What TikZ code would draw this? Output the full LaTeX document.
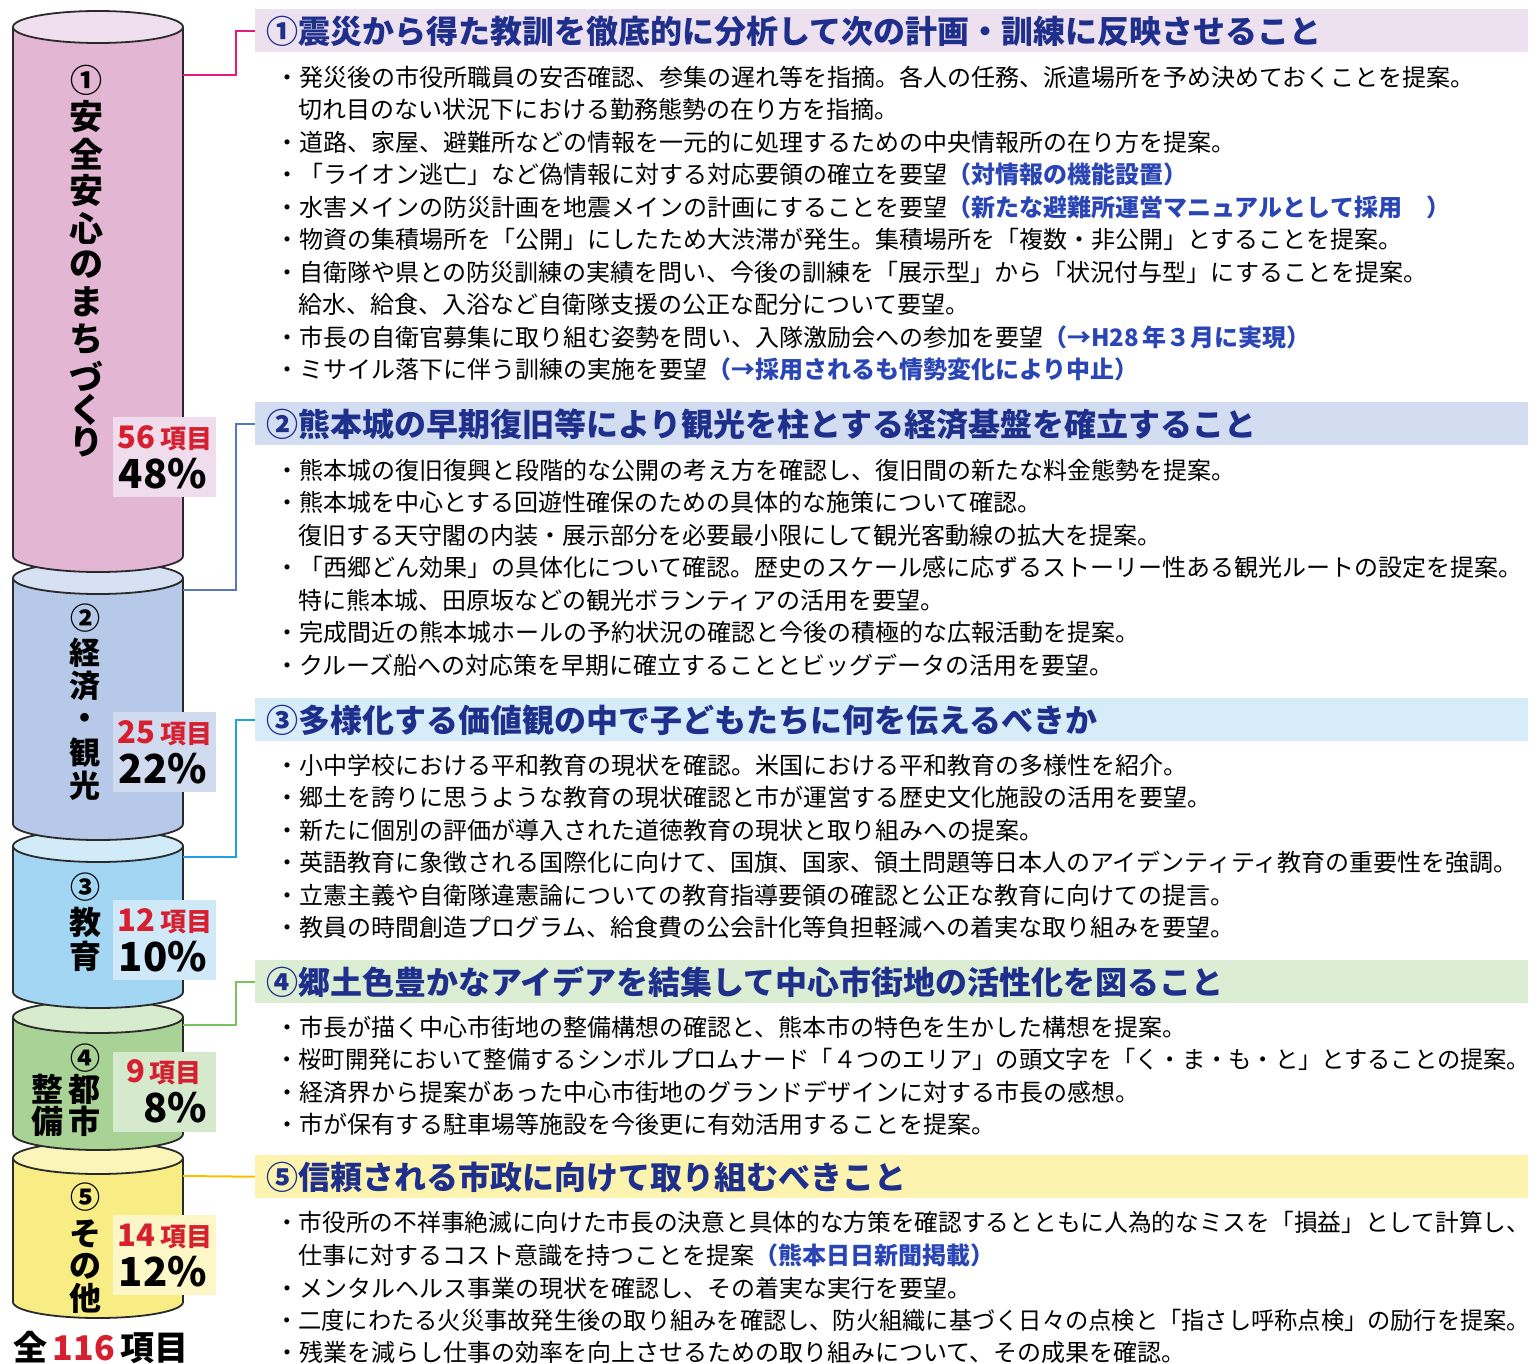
\documentclass[tikz,border=0pt]{standalone}
\usepackage{fontspec}
\setmainfont{Noto Sans CJK JP}
\newfontfamily\cjk{Noto Sans CJK JP}
\definecolor{cylgray}{HTML}{2A2A2A}
\definecolor{pinkbody}{HTML}{E3B6D4}\definecolor{pinktop}{HTML}{F0E0EF}\definecolor{pinkbox}{HTML}{EFDCEC}\definecolor{pinkline}{HTML}{E5197F}\definecolor{pinkhead}{HTML}{EEE1EF}
\definecolor{bluebody}{HTML}{B6C9E8}\definecolor{bluetop}{HTML}{D6E1F3}\definecolor{bluebox}{HTML}{D1DBF0}\definecolor{blueline}{HTML}{5577C4}\definecolor{bluehead}{HTML}{D3DDF1}
\definecolor{cyanbody}{HTML}{A3D6F3}\definecolor{cyantop}{HTML}{D2EBF9}\definecolor{cyanbox}{HTML}{CFE9F8}\definecolor{cyanline}{HTML}{1DA1E0}\definecolor{cyanhead}{HTML}{D6ECF8}
\definecolor{greenbody}{HTML}{A9D296}\definecolor{greentop}{HTML}{D7EBCD}\definecolor{greenbox}{HTML}{D5E9CD}\definecolor{greenline}{HTML}{7CC062}\definecolor{greenhead}{HTML}{DBEED3}
\definecolor{yellowbody}{HTML}{F8ED85}\definecolor{yellowtop}{HTML}{FBF5B9}\definecolor{yellowbox}{HTML}{FDF7C8}\definecolor{yellowline}{HTML}{F2C200}\definecolor{yellowhead}{HTML}{FCF4AE}
\definecolor{headtext}{HTML}{1F2F8C}
\definecolor{pblue}{HTML}{2A45B5}
\definecolor{numred}{HTML}{D7202F}
\newsavebox\fitbox
\newcommand\fitw[2]{\sbox\fitbox{#2}\ifdim\wd\fitbox>#1\relax\resizebox{#1}{\height}{\usebox\fitbox}\else\usebox\fitbox\fi}
\newcommand\bp[1]{{\bfseries\color{pblue}#1}}
\newcounter{ln}
\newcommand\bl[2]{\stepcounter{ln}\node[bodytxt] (L\arabic{ln}) at (275,#1) {\fitw{1255pt}{・#2}};}
\newcommand\cl[2]{\stepcounter{ln}\node[bodytxt] (L\arabic{ln}) at (298,#1) {\fitw{1232pt}{#2}};}
\newcommand\vc[5]{\node[vch,font=\cjk\bfseries\fontsize{#4}{#4}\selectfont] (#1) at (#2,#3) {#5};}
\newcommand\cyl[5]{%
  \fill[#4] (13,#2) -- (13,#3) arc[start angle=180,end angle=0,x radius=85,y radius=16] -- (183,#2) -- cycle;
  \draw[cylline] (13,#2) -- (13,#3) arc[start angle=180,end angle=0,x radius=85,y radius=16] -- (183,#2);
  \filldraw[cylline,fill=#5] (98,#2) ellipse [x radius=85,y radius=16];
  \coordinate (#1) at (183,#2);}
\tikzset{
  cylline/.style={draw=cylgray,line width=1.8pt},
  vch/.style={inner sep=0pt,text=black},
  lbox/.style={anchor=north west,inner sep=0pt,minimum width=103pt,minimum height=80pt},
  itm/.style={inner sep=0pt,text=numred,font=\cjk\bfseries\fontsize{26}{26}\selectfont},
  pct/.style={inner sep=0pt,anchor=east,font=\cjk\bfseries\fontsize{40}{40}\selectfont},
  hbar/.style={anchor=north west,inner sep=0pt,minimum width=1273pt,minimum height=43pt},
  htxt/.style={anchor=west,inner sep=0pt,text=headtext,font=\cjk\bfseries\fontsize{32}{32}\selectfont},
  bodytxt/.style={anchor=west,inner sep=0pt,font=\cjk\fontsize{24}{24}\selectfont},
  conn/.style={line width=2pt}
}
\begin{document}
\begin{tikzpicture}[x=1pt,y=-1pt]
\useasboundingbox (0,0) rectangle (1538,1363);
\fill[white] (0,0) rectangle (1538,1363);
% cylinders (bottom first)
\cyl{cy5}{1158}{1302}{yellowbody}{yellowtop}
\cyl{cy4}{1017}{1134}{greenbody}{greentop}
\cyl{cy3}{846}{992}{cyanbody}{cyantop}
\cyl{cy2}{578}{824}{bluebody}{bluetop}
\cyl{cy1}{27}{556}{pinkbody}{pinktop}
% connector start points on cylinder sides
\coordinate (s1) at (183,75);
\coordinate (s2) at (183,590);
\coordinate (s3) at (183,857);
\coordinate (s4) at (183,1025);
\coordinate (s5) at (183,1176);
% vertical labels
\vc{a0}{86}{80}{32}{①}
\vc{a1}{86}{117}{34}{安}
\vc{a2}{86}{154}{34}{全}
\vc{a3}{86}{191}{34}{安}
\vc{a4}{86}{228}{34}{心}
\vc{a5}{86}{265}{34}{の}
\vc{a6}{86}{302}{34}{ま}
\vc{a7}{86}{339}{34}{ち}
\vc{a8}{86}{376}{34}{づ}
\vc{a9}{86}{410}{34}{く}
\vc{a10}{86}{442}{34}{り}
\vc{b0}{85}{618}{30}{②}
\vc{b1}{85}{653}{31}{経}
\vc{b2}{85}{686}{31}{済}
\vc{b3}{85}{721}{31}{・}
\vc{b4}{85}{753}{31}{観}
\vc{b5}{85}{786}{31}{光}
\vc{c0}{85}{887}{30}{③}
\vc{c1}{85}{922}{32}{教}
\vc{c2}{85}{956}{32}{育}
\vc{d0}{85}{1058}{30}{④}
\vc{d1}{84}{1089}{32}{都}
\vc{d2}{84}{1121}{32}{市}
\vc{d3}{47}{1089}{32}{整}
\vc{d4}{47}{1121}{32}{備}
\vc{e0}{85}{1197}{30}{⑤}
\vc{e1}{85}{1234}{32}{そ}
\vc{e2}{85}{1266}{32}{の}
\vc{e3}{85}{1298}{32}{他}
% label boxes
\node[lbox,fill=pinkbox] (k1) at (113,417) {};
\node[itm] (k1a) at (165,438) {{\fontsize{31}{31}\selectfont 56}\,項目};
\node[pct] (k1b) at (207,474) {48\%};
\node[lbox,fill=bluebox] (k2) at (113,712) {};
\node[itm] (k2a) at (165,733) {{\fontsize{31}{31}\selectfont 25}\,項目};
\node[pct] (k2b) at (207,769) {22\%};
\node[lbox,fill=cyanbox] (k3) at (113,900) {};
\node[itm] (k3a) at (165,921) {{\fontsize{31}{31}\selectfont 12}\,項目};
\node[pct] (k3b) at (207,957) {10\%};
\node[lbox,fill=greenbox] (k4) at (113,1052) {};
\node[itm] (k4a) at (164,1072) {{\fontsize{31}{31}\selectfont 9}\,項目};
\node[pct] (k4b) at (207,1108) {8\%};
\node[lbox,fill=yellowbox] (k5) at (113,1215) {};
\node[itm] (k5a) at (165,1236) {{\fontsize{31}{31}\selectfont 14}\,項目};
\node[pct] (k5b) at (207,1272) {12\%};
\node[anchor=west,inner sep=0pt,font=\cjk\bfseries\fontsize{34}{34}\selectfont] (total) at (13,1347) {全\,{\color{numred}116}\,項目};
% heading bars
\node[hbar,fill=pinkhead] (h1) at (255,9) {};
\node[hbar,fill=bluehead] (h2) at (255,402) {};
\node[hbar,fill=cyanhead] (h3) at (255,698) {};
\node[hbar,fill=greenhead] (h4) at (255,960) {};
\node[hbar,fill=yellowhead] (h5) at (255,1155) {};
\node[htxt] (ht1) at (266,31) {①震災から得た教訓を徹底的に分析して次の計画・訓練に反映させること};
\node[htxt] (ht2) at (266,424) {②熊本城の早期復旧等により観光を柱とする経済基盤を確立すること};
\node[htxt] (ht3) at (266,720) {③多様化する価値観の中で子どもたちに何を伝えるべきか};
\node[htxt] (ht4) at (266,982) {④郷土色豊かなアイデアを結集して中心市街地の活性化を図ること};
\node[htxt] (ht5) at (266,1177) {⑤信頼される市政に向けて取り組むべきこと};
% connectors
\draw[conn,pinkline] (s1) -- (236,75) |- (h1.west);
\draw[conn,blueline] (s2) -- (236,590) |- (h2.west);
\draw[conn,cyanline] (s3) -- (236,857) |- (h3.west);
\draw[conn,greenline] (s4) -- (236,1025) |- (h4.west);
\draw[conn,yellowline] (s5) -- (h5.west);
% body text
\bl{77}{発災後の市役所職員の安否確認、参集の遅れ等を指摘。各人の任務、派遣場所を予め決めておくことを提案。}
\cl{109}{切れ目のない状況下における勤務態勢の在り方を指摘。}
\bl{142}{道路、家屋、避難所などの情報を一元的に処理するための中央情報所の在り方を提案。}
\bl{174}{「ライオン逃亡」など偽情報に対する対応要領の確立を要望\bp{（対情報の機能設置）}}
\bl{207}{水害メインの防災計画を地震メインの計画にすることを要望\bp{（新たな避難所運営マニュアルとして採用　）}}
\bl{239}{物資の集積場所を「公開」にしたため大渋滞が発生。集積場所を「複数・非公開」とすることを提案。}
\bl{272}{自衛隊や県との防災訓練の実績を問い、今後の訓練を「展示型」から「状況付与型」にすることを提案。}
\cl{304}{給水、給食、入浴など自衛隊支援の公正な配分について要望。}
\bl{337}{市長の自衛官募集に取り組む姿勢を問い、入隊激励会への参加を要望\bp{（→H28\,年３月に実現）}}
\bl{369}{ミサイル落下に伴う訓練の実施を要望\bp{（→採用されるも情勢変化により中止）}}
\bl{470}{熊本城の復旧復興と段階的な公開の考え方を確認し、復旧間の新たな料金態勢を提案。}
\bl{502}{熊本城を中心とする回遊性確保のための具体的な施策について確認。}
\cl{535}{復旧する天守閣の内装・展示部分を必要最小限にして観光客動線の拡大を提案。}
\bl{567}{「西郷どん効果」の具体化について確認。歴史のスケール感に応ずるストーリー性ある観光ルートの設定を提案。}
\cl{600}{特に熊本城、田原坂などの観光ボランティアの活用を要望。}
\bl{632}{完成間近の熊本城ホールの予約状況の確認と今後の積極的な広報活動を提案。}
\bl{665}{クルーズ船への対応策を早期に確立することとビッグデータの活用を要望。}
\bl{765}{小中学校における平和教育の現状を確認。米国における平和教育の多様性を紹介。}
\bl{797}{郷土を誇りに思うような教育の現状確認と市が運営する歴史文化施設の活用を要望。}
\bl{830}{新たに個別の評価が導入された道徳教育の現状と取り組みへの提案。}
\bl{862}{英語教育に象徴される国際化に向けて、国旗、国家、領土問題等日本人のアイデンティティ教育の重要性を強調。}
\bl{895}{立憲主義や自衛隊違憲論についての教育指導要領の確認と公正な教育に向けての提言。}
\bl{927}{教員の時間創造プログラム、給食費の公会計化等負担軽減への着実な取り組みを要望。}
\bl{1027}{市長が描く中心市街地の整備構想の確認と、熊本市の特色を生かした構想を提案。}
\bl{1059}{桜町開発において整備するシンボルプロムナード「４つのエリア」の頭文字を「く・ま・も・と」とすることの提案。}
\bl{1092}{経済界から提案があった中心市街地のグランドデザインに対する市長の感想。}
\bl{1124}{市が保有する駐車場等施設を今後更に有効活用することを提案。}
\bl{1222}{市役所の不祥事絶滅に向けた市長の決意と具体的な方策を確認するとともに人為的なミスを「損益」として計算し、}
\cl{1255}{仕事に対するコスト意識を持つことを提案\bp{（熊本日日新聞掲載）}}
\bl{1288}{メンタルヘルス事業の現状を確認し、その着実な実行を要望。}
\bl{1320}{二度にわたる火災事故発生後の取り組みを確認し、防火組織に基づく日々の点検と「指さし呼称点検」の励行を提案。}
\bl{1352}{残業を減らし仕事の効率を向上させるための取り組みについて、その成果を確認。}
\end{tikzpicture}
\end{document}
